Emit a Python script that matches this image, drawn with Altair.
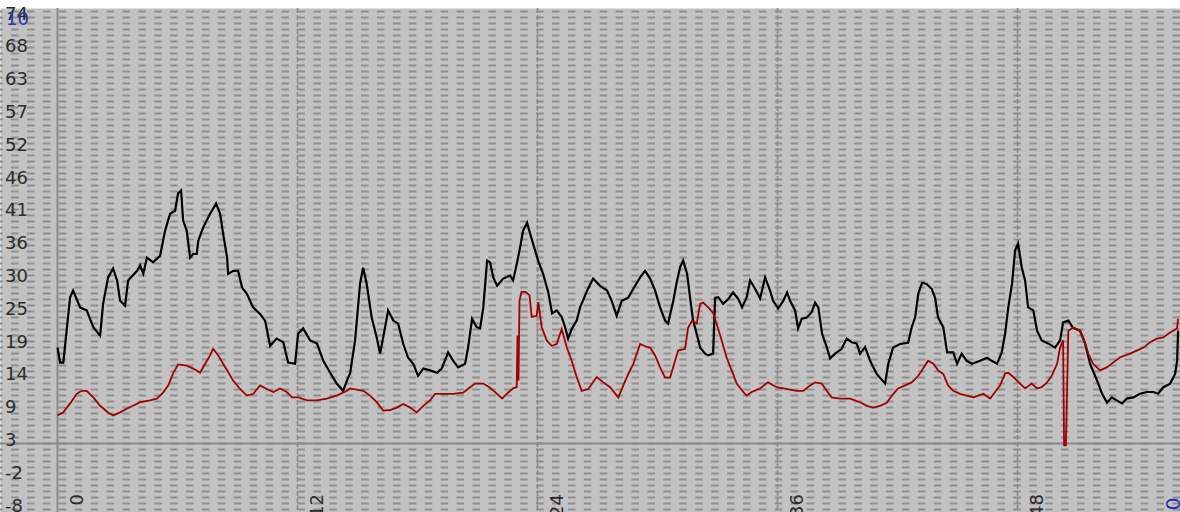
import altair as alt
import pandas as pd

# ---- series values (time in hours, reading) ----
black_t = [0.0, 0.13, 0.29, 0.63, 0.78, 1.13, 1.46, 1.79, 2.13, 2.28, 2.53, 2.78, 2.98, 3.13, 3.38,
           3.53, 3.98, 4.13, 4.29, 4.47, 4.78, 5.13, 5.38, 5.63, 5.88, 6.03, 6.18, 6.28, 6.46, 6.63,
           6.78, 6.96, 7.04, 7.28, 7.63, 7.93, 8.13, 8.28, 8.48, 8.53, 8.79, 9.03, 9.23, 9.46, 9.78,
           10.13, 10.38, 10.63, 10.96, 11.29, 11.53, 11.88, 12.03, 12.28, 12.63, 12.97, 13.29, 13.63,
           13.96, 14.28, 14.53, 14.63, 14.88, 15.13, 15.28, 15.46, 15.71, 15.96, 16.13, 16.38, 16.53,
           16.79, 17.03, 17.29, 17.53, 17.79, 18.03, 18.29, 18.63, 18.98, 19.21, 19.53, 19.79, 20.03,
           20.38, 20.53, 20.73, 20.96, 21.13, 21.29, 21.48, 21.63, 21.79, 21.98, 22.29, 22.63, 22.78,
           22.98, 23.13, 23.28, 23.48, 23.63, 23.78, 24.03, 24.28, 24.54, 24.73, 24.96, 25.21, 25.38,
           25.53, 25.71, 25.96, 26.13, 26.48, 26.78, 27.13, 27.48, 27.71, 27.96, 28.21, 28.53, 28.88,
           29.13, 29.38, 29.63, 29.88, 30.13, 30.38, 30.53, 30.79, 30.98, 31.13, 31.28, 31.48, 31.63,
           31.78, 31.96, 32.13, 32.38, 32.53, 32.78, 32.88, 33.04, 33.28, 33.54, 33.78, 34.04, 34.23,
           34.46, 34.63, 34.88, 35.13, 35.38, 35.63, 35.78, 36.03, 36.29, 36.48, 36.63, 36.88, 37.03,
           37.21, 37.46, 37.71, 37.88, 38.04, 38.23, 38.46, 38.63, 38.88, 39.21, 39.46, 39.71, 39.96,
           40.13, 40.38, 40.63, 40.96, 41.38, 41.54, 41.78, 42.13, 42.53, 42.71, 42.88, 43.04, 43.23,
           43.46, 43.71, 43.88, 44.03, 44.29, 44.48, 44.79, 44.98, 45.21, 45.46, 45.73, 46.13, 46.48,
           46.71, 46.98, 47.21, 47.38, 47.54, 47.73, 47.88, 48.03, 48.21, 48.38, 48.53, 48.79, 48.98,
           49.21, 49.53, 49.88, 50.13, 50.28, 50.54, 50.78, 51.13, 51.38, 51.63, 51.98, 52.23, 52.48,
           52.71, 52.96, 53.23, 53.46, 53.79, 54.13, 54.46, 54.79, 55.03, 55.29, 55.63, 55.88, 55.98,
           56.03]
black_v = [19.0, 16.5, 16.5, 27.4, 28.5, 25.7, 25.2, 22.4, 21.0, 26.3, 30.7, 32.2, 30.2, 26.8, 26.0,
           30.2, 31.8, 32.7, 31.3, 34.0, 33.2, 34.3, 38.5, 41.3, 41.8, 44.7, 45.2, 40.2, 38.5, 34.0,
           34.6, 34.6, 36.8, 39.0, 41.3, 43.0, 41.3, 38.0, 34.0, 31.3, 31.8, 31.8, 29.0, 28.0, 25.7,
           24.6, 23.5, 19.3, 20.5, 19.9, 16.5, 16.3, 21.3, 22.2, 20.2, 19.7, 16.8, 14.8,
           13.0, 11.8, 14.0, 14.7, 20.2, 29.7, 32.3, 29.6, 24.0, 20.7, 18.0, 22.4, 25.2,
           23.5, 23.0, 19.6, 17.3, 16.3, 14.3, 15.5, 15.2, 14.8, 15.5, 18.2, 16.8, 15.7,
           16.3, 19.0, 23.8, 22.4, 22.2, 25.7, 33.5, 33.2, 30.7, 29.3, 30.5, 31.0, 30.2,
           33.2, 35.7, 38.5, 39.8, 38.0, 36.3, 33.5, 31.3, 28.2, 24.7, 25.2, 24.1, 22.4,
           20.5, 22.1, 23.5, 25.7, 28.5, 30.5, 29.3, 28.5, 26.8, 24.3, 26.8, 27.3, 29.3,
           30.7, 31.8, 30.5, 28.5, 25.7, 23.5, 23.0, 26.8, 30.2, 32.4, 33.5, 31.3, 27.3,
           23.5, 21.3, 19.0, 18.0, 17.7, 18.0, 27.3, 27.4, 26.3, 27.1, 28.2, 27.1, 25.7,
           27.4, 30.2, 28.8, 27.2, 30.7, 28.5, 26.8, 25.5, 26.8, 28.2, 26.8, 25.2, 22.2,
           23.8, 24.0, 24.9, 26.5, 25.7, 21.3, 19.1, 17.2, 18.0, 18.8, 20.5, 19.9, 19.7,
           18.0, 19.1, 16.8, 14.6, 13.0, 16.3, 19.0, 19.6, 19.8, 22.4, 24.0, 28.0, 29.8,
           29.6, 28.8, 27.3, 24.0, 22.4, 18.2, 18.2, 16.3, 18.0, 16.8, 16.3, 16.8, 17.3,
           16.8, 16.3, 18.2, 21.3, 25.7, 29.7, 35.2, 36.3, 32.4, 30.2, 25.7, 25.2, 21.8,
           20.2, 19.7, 19.0, 20.2, 23.2, 23.5, 22.3, 21.8, 19.7, 16.3, 13.5, 11.3, 9.8,
           10.7, 10.2, 9.7, 10.5, 10.7, 11.3, 11.6, 11.6, 11.3, 12.4, 13.0, 14.6, 16.8,
           21.8]

red_t = [0.0, 0.29, 0.63, 0.96, 1.21, 1.46, 1.79, 2.13, 2.53, 2.78, 3.13, 3.46, 3.78, 4.13, 4.63,
         4.96, 5.28, 5.54, 5.78, 6.03, 6.46, 6.79, 7.13, 7.38, 7.63, 7.78, 8.04, 8.28, 8.54, 8.78,
         9.13, 9.46, 9.79, 10.13, 10.46, 10.79, 11.13, 11.46, 11.73, 12.04, 12.48, 12.96, 13.46,
         13.96, 14.48, 14.63, 15.29, 15.63, 15.96, 16.28, 16.63, 16.96, 17.29, 17.63, 17.96, 18.29,
         18.63, 18.88, 19.38, 19.79, 20.28, 20.63, 20.88, 21.29, 21.63, 21.98, 22.23, 22.46, 22.78,
         22.96, 23.0, 23.05, 23.1, 23.2, 23.4, 23.6, 23.71, 23.96, 24.04, 24.21, 24.46, 24.71, 24.96,
         25.21, 25.46, 25.71, 25.96, 26.21, 26.54, 26.96, 27.29, 27.63, 28.04, 28.29, 28.54, 28.79,
         29.13, 29.46, 29.63, 29.88, 30.13, 30.38, 30.63, 30.88, 31.03, 31.38, 31.53, 31.73, 31.96,
         32.13, 32.28, 32.54, 32.78, 33.03, 33.21, 33.46, 33.71, 33.96, 34.29, 34.46, 34.71, 35.13,
         35.53, 35.96, 36.29, 36.96, 37.29, 37.63, 37.88, 38.21, 38.46, 38.71, 39.13, 39.63, 40.13,
         40.46, 40.78, 41.13, 41.46, 41.79, 42.03, 42.38, 42.71, 43.04, 43.28, 43.53, 43.79, 44.03,
         44.29, 44.53, 44.79, 45.13, 45.46, 45.79, 46.29, 46.63, 46.88, 47.13, 47.38, 47.54, 47.79,
         48.13, 48.38, 48.71, 48.98, 49.21, 49.48, 49.71, 49.98, 50.13, 50.28, 50.33, 50.42, 50.54,
         50.78, 51.13, 51.38, 51.54, 51.78, 52.13, 52.46, 52.78, 53.13, 53.63, 53.96, 54.29, 54.63,
         54.96, 55.29, 55.63, 55.98, 56.03]
red_v = [7.7, 8.2, 9.7, 11.3, 11.8, 11.8, 10.7, 9.3, 8.2, 7.7, 8.2, 8.8, 9.3, 9.9, 10.2,
         10.5, 11.5, 12.7, 14.7, 16.2, 16.0, 15.5, 14.8, 16.3, 17.7, 18.8, 17.7, 16.3, 14.9, 13.5,
         12.1, 11.0, 11.3, 12.7, 12.1, 11.6, 12.2, 11.6, 10.7, 10.7, 10.2, 10.2, 10.5,
         11.0, 11.8, 12.2, 11.8, 11.0, 9.9, 8.5, 8.6, 9.0, 9.6, 9.0, 8.2, 9.3,
         10.2, 11.3, 11.3, 11.3, 11.5, 12.4, 13.0, 13.0, 12.3, 11.3, 10.5, 11.3, 12.2,
         12.4, 21.0, 13.5, 26.8, 28.3, 28.3, 27.7, 24.1, 24.3, 26.6, 22.4, 20.2, 19.3, 19.6,
         22.1, 19.1, 16.8, 14.1, 11.8, 12.1, 14.1, 13.2, 12.4, 10.7, 12.7, 14.6, 16.3,
         19.6, 19.1, 19.0, 17.7, 15.7, 14.0, 14.0, 16.8, 18.5, 18.8, 22.3, 23.5, 23.0,
         26.3, 26.5, 25.7, 24.8, 22.2, 20.2, 17.3, 15.2, 13.0, 11.6, 11.0, 11.6, 12.2,
         13.2, 12.4, 12.2, 11.8, 11.8, 12.7, 13.2, 13.0, 11.8, 10.7, 10.5, 10.5, 9.9,
         9.3, 9.0, 9.3, 9.8, 11.3, 12.2, 12.7, 13.2, 14.3, 15.5, 16.8, 16.3, 15.2,
         14.6, 12.7, 11.8, 11.3, 11.0, 10.7, 11.3, 10.5, 11.6, 12.7, 14.7, 14.8, 14.1,
         13.0, 12.2, 13.0, 12.2, 12.4, 13.2, 14.3, 16.3, 19.0, 20.2, 2.7, 2.7, 21.8,
         22.3, 21.8, 19.7, 18.0, 16.3, 15.2, 15.7, 16.5, 17.4, 18.0, 18.5, 19.0, 19.9,
         20.5, 20.7, 21.5, 22.2, 23.8]

# ---- tick positions and labels ----
x_ticks = [0, 12, 24, 36, 48]
x_tick_labels = ["0", "12", "24", "36", "48"]
y_tick_labels = ["-8", "-2", "3", "9", "14", "19", "25", "30", "36", "41",
                 "46", "52", "57", "63", "68", "74"]
y_lo, y_hi = -8, 74
y_step = (y_hi - y_lo) / (len(y_tick_labels) - 1)
y_tick_values = [y_lo + i * y_step for i in range(len(y_tick_labels))]

x_domain = [-2.875, 56.125]
y_domain = [-8.4, 75.6]
baseline_value = 3

FONT = "DejaVu Sans"
GRID = "#8e8e8e"
LABEL = "#2b2b2b"
BLUE = "#2433a8"

black_df = pd.DataFrame({"t": black_t, "v": black_v})
red_df = pd.DataFrame({"t": red_t, "v": red_v})
levels_df = pd.DataFrame({"level": list(range(y_lo, int(y_domain[1]) + 1))})
ylab_df = pd.DataFrame({"pos": y_tick_values, "label": y_tick_labels})
xlab_df = pd.DataFrame({"t": x_ticks, "label": x_tick_labels})

x_scale = alt.Scale(domain=x_domain, nice=False, zero=False)
y_scale = alt.Scale(domain=y_domain, nice=False, zero=False)

X = lambda f: alt.X(f, scale=x_scale, axis=None)
Y = lambda f: alt.Y(f, scale=y_scale, axis=None)

# dashed horizontal rows, one per unit
rows = alt.Chart(levels_df).mark_rule(
    color=GRID, strokeWidth=2, strokeDash=[7.5, 8.41]
).encode(y=Y("level:Q"))

# vertical guides every 12 hours: solid at the origin, dashed after
v_solid = alt.Chart(pd.DataFrame({"t": x_ticks[:1]})).mark_rule(
    color="#8a8a8a", strokeWidth=2
).encode(x=X("t:Q"))
v_dashed = alt.Chart(pd.DataFrame({"t": x_ticks[1:]})).mark_rule(
    color="#8a8a8a", strokeWidth=1.6, strokeDash=[5, 2]
).encode(x=X("t:Q"))

base_line = alt.Chart(pd.DataFrame({"level": [baseline_value]})).mark_rule(
    color="#8a8a8a", strokeWidth=2
).encode(y=Y("level:Q"))

black_line = alt.Chart(black_df).mark_line(color="#000000", strokeWidth=2.2).encode(
    x=X("t:Q"), y=Y("v:Q")
)
red_line = alt.Chart(red_df).mark_line(color="#a00000", strokeWidth=1.8).encode(
    x=X("t:Q"), y=Y("v:Q")
)

# tick labels drawn inside the plotting area
y_labels = alt.Chart(ylab_df).mark_text(
    font=FONT, fontSize=18, color=LABEL, align="left", baseline="middle", yOffset=-3
).encode(y=Y("pos:Q"), x=alt.value(5), text="label:N")
x_labels = alt.Chart(xlab_df).mark_text(
    font=FONT, fontSize=18, color=LABEL, align="right", baseline="middle",
    angle=270, xOffset=20
).encode(x=X("t:Q"), y=alt.value(486), text="label:N")

unit_top = alt.Chart(pd.DataFrame({"s": ["10"]})).mark_text(
    color=BLUE, font=FONT, fontSize=18, align="left", baseline="middle"
).encode(text="s:N", x=alt.value(6), y=alt.value(12))
unit_corner = alt.Chart(pd.DataFrame({"s": ["0"]})).mark_text(
    color=BLUE, font=FONT, fontSize=20, align="center", baseline="middle", angle=270
).encode(text="s:N", x=alt.value(1174), y=alt.value(496))

chart = alt.layer(
    rows, v_solid, v_dashed, base_line, black_line, red_line,
    y_labels, x_labels, unit_top, unit_corner
).properties(
    width=1180,
    height=504,
    padding={"top": 8, "left": 0, "right": 0, "bottom": 0},
    autosize=alt.AutoSizeParams(type="none"),
).configure(background="white").configure_view(fill="#c2c2c2", stroke="transparent")

chart.save("out.html", embed_options={"renderer": "svg", "actions": False})
